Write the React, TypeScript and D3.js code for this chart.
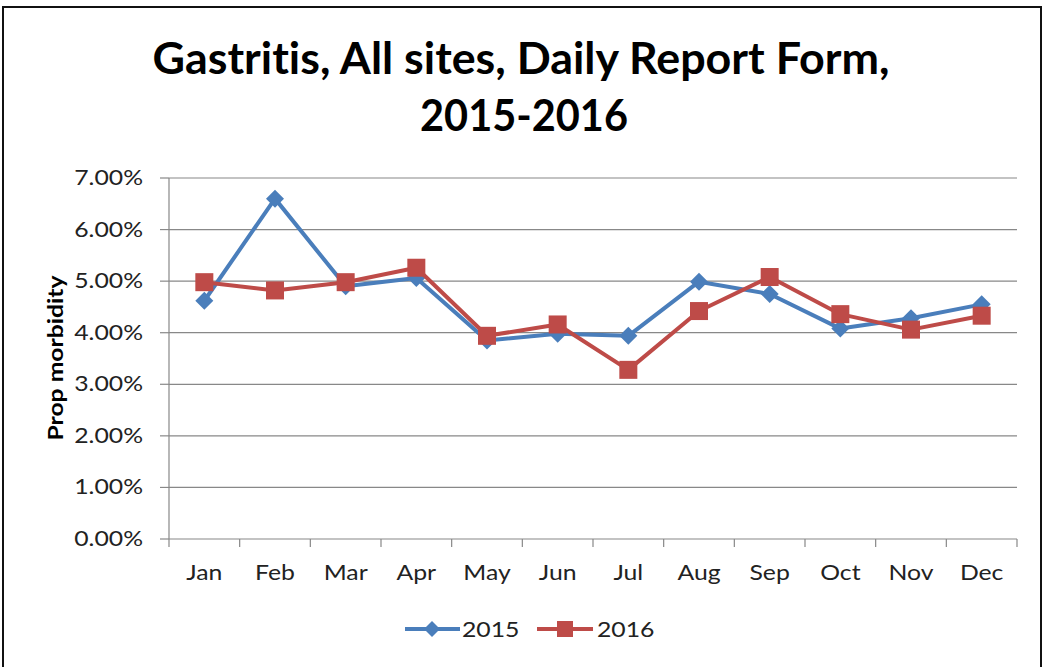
import React from "react";
import * as d3 from "d3";

const months = ["Jan", "Feb", "Mar", "Apr", "May", "Jun", "Jul", "Aug", "Sep", "Oct", "Nov", "Dec"];
const values2015 = [0.0462, 0.066, 0.049, 0.0506, 0.0385, 0.0398, 0.0394, 0.0499, 0.0475, 0.0408, 0.0428, 0.0455];
const values2016 = [0.0498, 0.0482, 0.0498, 0.0526, 0.0394, 0.0416, 0.0328, 0.0442, 0.0508, 0.0436, 0.0406, 0.0433];
const yTicks = [0, 0.01, 0.02, 0.03, 0.04, 0.05, 0.06, 0.07];
const titleLines = ["Gastritis, All sites, Daily Report Form,", "2015-2016"];
const seriesNames = ["2015", "2016"];

const W = 1043;
const H = 667;
const BLUE = "#4A7EBB";
const RED = "#BE4B48";
const GRID = "#888888";
const FONT = "Lato, 'Open Sans', sans-serif";
const SX = 1.18;

export default function App() {
  const x = d3.scaleBand<string>().domain(months).range([169, 1017]).padding(0);
  const y = d3.scaleLinear().domain([0, 0.07]).range([539, 178]);
  const cx = (m: string) => (x(m) as number) + x.bandwidth() / 2;
  const line = d3
    .line<number>()
    .x((_, i) => cx(months[i]))
    .y((d) => y(d));
  const fmt = d3.format(".2%");

  const diamond = (px: number, py: number, r: number, key?: string) => (
    <path key={key} d={`M${px},${py - r}L${px + r},${py}L${px},${py + r}L${px - r},${py}Z`} fill={BLUE} />
  );
  const square = (px: number, py: number, s: number, key?: string) => (
    <rect key={key} x={px - s / 2} y={py - s / 2} width={s} height={s} fill={RED} />
  );

  return (
    <svg
      width={W}
      height={H}
      style={{ position: "fixed", left: 0, top: 0, background: "#fff", fontVariantLigatures: "none" }}
      fontFamily={FONT}
    >
      <rect x={0} y={0} width={W} height={H} fill="#fff" />
      <rect x={3} y={7} width={1038} height={H + 10} fill="none" stroke="#111" strokeWidth={2} />

      {/* Title */}
      <text x={521} y={74} textAnchor="middle" fontSize={43} fontWeight={700} fill="#000"
        textLength={737} lengthAdjust="spacingAndGlyphs">
        {titleLines[0]}
      </text>
      <text x={524} y={131} textAnchor="middle" fontSize={43} fontWeight={700} fill="#000"
        textLength={208} lengthAdjust="spacingAndGlyphs">
        {titleLines[1]}
      </text>

      {/* Gridlines */}
      {yTicks.map((t) => (
        <g key={t}>
          <line x1={169} x2={1017} y1={y(t)} y2={y(t)} stroke={GRID} strokeWidth={1.2} />
          <line x1={160} x2={169} y1={y(t)} y2={y(t)} stroke={GRID} strokeWidth={1.2} />
          <text transform={`translate(143,${y(t) + 7}) scale(${SX},1)`} textAnchor="end" fontSize={21} fill="#222">
            {fmt(t)}
          </text>
        </g>
      ))}
      {/* Y axis line */}
      <line x1={169} x2={169} y1={178} y2={539} stroke={GRID} strokeWidth={1.2} />
      {/* X ticks */}
      {[...months.map((m) => x(m) as number), 1017].map((px, i) => (
        <line key={i} x1={px} x2={px} y1={539} y2={547} stroke={GRID} strokeWidth={1.2} />
      ))}
      {months.map((m) => (
        <text key={m} transform={`translate(${cx(m)},580) scale(${SX},1)`} textAnchor="middle" fontSize={21} fill="#222">
          {m}
        </text>
      ))}

      {/* Y label */}
      <text transform="translate(63,358) rotate(-90)" textAnchor="middle" fontSize={21} fontWeight={700} fill="#000"
        textLength={165} lengthAdjust="spacingAndGlyphs">
        Prop morbidity
      </text>

      {/* Series */}
      <path d={line(values2015) || ""} fill="none" stroke={BLUE} strokeWidth={4} strokeLinejoin="round" />
      {values2015.map((v, i) => diamond(cx(months[i]), y(v), 9, "d" + i))}
      <path d={line(values2016) || ""} fill="none" stroke={RED} strokeWidth={4} strokeLinejoin="round" />
      {values2016.map((v, i) => square(cx(months[i]), y(v), 18, "s" + i))}

      {/* Legend */}
      <line x1={405} x2={460} y1={629} y2={629} stroke={BLUE} strokeWidth={4} />
      {diamond(432, 629, 8)}
      <text transform={`translate(462,637) scale(${SX},1)`} fontSize={21} fill="#222">{seriesNames[0]}</text>
      <line x1={537} x2={593} y1={629} y2={629} stroke={RED} strokeWidth={4} />
      {square(565, 629, 16)}
      <text transform={`translate(597,637) scale(${SX},1)`} fontSize={21} fill="#222">{seriesNames[1]}</text>
    </svg>
  );
}
